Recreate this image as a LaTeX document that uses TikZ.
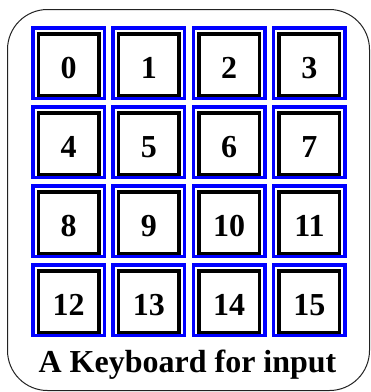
\documentclass[tikz,border=0pt]{standalone}
\usepackage{fontspec}
\setmainfont{Liberation Serif}
\usetikzlibrary{positioning}
\definecolor{keyblue}{HTML}{0000FF}
\definecolor{frameink}{HTML}{222222}

\begin{document}
\begin{tikzpicture}[x=1pt, y=-1pt, font=\bfseries\fontsize{32}{38}\selectfont]
  \useasboundingbox (0,0) rectangle (371,392);
  \draw[frameink, line width=1pt, rounded corners=40pt] (7.5,9.5) rectangle (369.5,390.5);
  \foreach \row in {0,1,2,3}{%
    \foreach \col in {0,1,2,3}{%
      \pgfmathtruncatemacro{\n}{4*\row+\col}
      \node[draw=keyblue, line width=3.5pt, minimum width=71.5pt, minimum height=70.5pt]
        (frame\n) at (68.5+80.3*\col, 63+79*\row) {};
      \node[draw=black, line width=3.5pt, minimum width=60.5pt, minimum height=61.5pt,
            text height=28pt, text depth=0pt, inner sep=0pt]
        (key\n) at ([yshift=-1.5pt]frame\n.center) {\n};}}
  \node[anchor=base] (caption) at (187.5,372) {A Keyboard for input};
\end{tikzpicture}
\end{document}
